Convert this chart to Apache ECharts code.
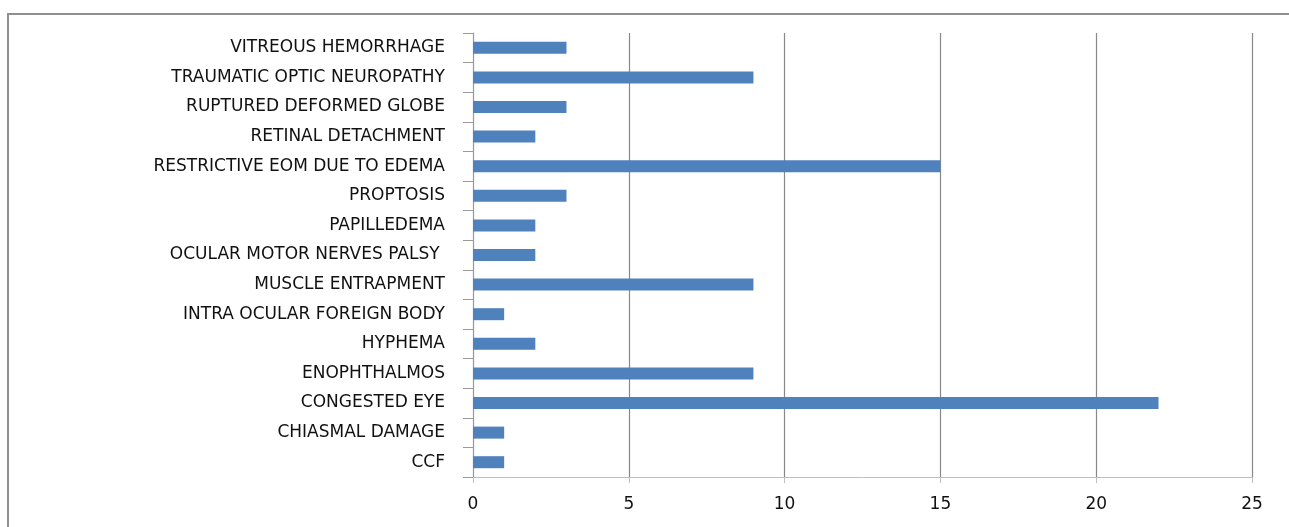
<!DOCTYPE html>
<html>
<head>
<meta charset="utf-8">
<script src="https://cdn.jsdelivr.net/npm/echarts@6/dist/echarts.min.js"></script>
<style>
html,body{margin:0;padding:0;background:#fff;}
#c{width:1289px;height:527px;}
</style>
</head>
<body>
<div id="c"></div>
<script>
const categories = ["CCF","CHIASMAL DAMAGE","CONGESTED EYE","ENOPHTHALMOS","HYPHEMA","INTRA OCULAR FOREIGN BODY","MUSCLE ENTRAPMENT","OCULAR MOTOR NERVES PALSY ","PAPILLEDEMA","PROPTOSIS","RESTRICTIVE EOM DUE TO EDEMA","RETINAL DETACHMENT","RUPTURED DEFORMED GLOBE","TRAUMATIC OPTIC NEUROPATHY","VITREOUS HEMORRHAGE"];
const values = [1,1,22,9,2,1,9,2,2,3,15,2,3,9,3];
const xMin = 0, xMax = 25, xStep = 5;

const chart = echarts.init(document.getElementById('c'), null, {renderer:'canvas'});
const font = 'DejaVu Sans';
chart.setOption({
  animation:false,
  backgroundColor:'#fff',
  graphic:[{type:'rect',shape:{x:8,y:14,width:1400,height:600},style:{fill:'none',stroke:'#8f8f8f',lineWidth:2},silent:true}],
  grid:{left:473,right:37,top:33,bottom:50,containLabel:false},
  xAxis:{type:'value',min:xMin,max:xMax,interval:xStep,
    axisLine:{show:true,lineStyle:{color:'#bfbfbf',width:1}},
    axisTick:{show:true,length:6,lineStyle:{color:'#bfbfbf'}},
    axisLabel:{color:'#111',fontFamily:font,fontSize:17,margin:19},
    splitLine:{show:true,lineStyle:{color:'#888888',width:1.2}}},
  yAxis:{type:'category',data:categories,
    axisLine:{show:true,lineStyle:{color:'#9a9a9a',width:1}},
    axisTick:{show:true,length:10,alignWithLabel:false,lineStyle:{color:'#9a9a9a'}},
    axisLabel:{color:'#111',fontFamily:font,fontSize:17,margin:28,interval:0},
    splitLine:{show:false}},
  series:[{type:'bar',data:values,barWidth:12,itemStyle:{color:'#4f81bd'}}]
});
</script>
</body>
</html>
